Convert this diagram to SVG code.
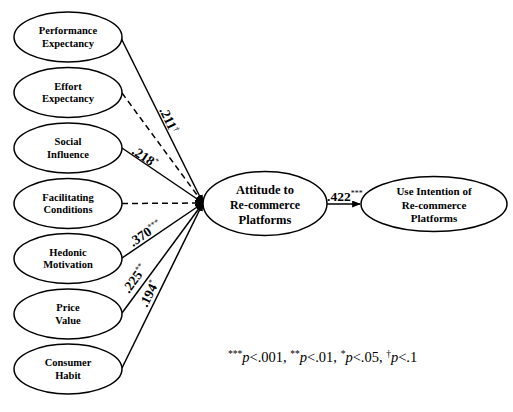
<svg xmlns="http://www.w3.org/2000/svg" width="513" height="412" viewBox="0 0 513 412" font-family="'Liberation Serif','Times New Roman',serif">
<style>
text{font-family:'Liberation Serif','Times New Roman',serif}
.node ellipse{fill:#fff;stroke:#000;stroke-width:1.5}
.lt{font-weight:bold;font-size:10.5px;text-anchor:middle;fill:#000}
.bt{font-weight:bold;font-size:12.5px;text-anchor:middle;fill:#000}
.mt{font-weight:bold;font-size:11px;text-anchor:middle;fill:#000}
.edge{stroke:#000;stroke-width:1.5;fill:none;marker-end:url(#ah)}
.dash{stroke-dasharray:6,4}
.lab{font-weight:bold;font-size:13.5px;fill:#000}
.sup{font-size:8px;font-weight:normal}
.note{font-size:14.5px;fill:#000}
.nsup{font-size:9.5px}
</style>
<defs>
<marker id="ah" viewBox="0 0 10 8" refX="9" refY="4" markerWidth="9" markerHeight="7" markerUnits="userSpaceOnUse" orient="auto">
<path d="M0,0 L10,4 L0,8 Z" fill="#000"/>
</marker>
</defs>
<g id="connectors">
<line class="edge" x1="121" y1="38" x2="203" y2="203"/>
<line class="edge dash" x1="122" y1="93" x2="203" y2="203"/>
<line class="edge" x1="122" y1="148" x2="203" y2="203"/>
<line class="edge dash" x1="122" y1="203.5" x2="203" y2="203"/>
<line class="edge" x1="122" y1="258" x2="203" y2="203"/>
<line class="edge" x1="122" y1="313" x2="203" y2="203"/>
<line class="edge" x1="122" y1="368" x2="203" y2="203"/>
<line class="edge" x1="327" y1="204" x2="360" y2="204"/>
<text class="lab" transform="translate(159,110) rotate(64)">.211<tspan class="sup" dy="-5">†</tspan></text>
<text class="lab" transform="translate(131,153) rotate(34)">.218<tspan class="sup" dy="-5">*</tspan></text>
<text class="lab" transform="translate(133,247) rotate(-34)">.370<tspan class="sup" dy="-5">***</tspan></text>
<text class="lab" transform="translate(129,294) rotate(-54)">.225<tspan class="sup" dy="-5">**</tspan></text>
<text class="lab" transform="translate(147,308) rotate(-64)">.194<tspan class="sup" dy="-5">*</tspan></text>
<text class="lab" x="327" y="201">.422<tspan class="sup" dy="-5">***</tspan></text>
</g>
<g id="performance-expectancy" class="node"><ellipse cx="68" cy="37" rx="54" ry="25"/><text class="lt" x="68" y="34">Performance</text><text class="lt" x="68" y="46.5">Expectancy</text></g>
<g id="effort-expectancy" class="node"><ellipse cx="68" cy="92.5" rx="54" ry="25"/><text class="lt" x="68" y="89.5">Effort</text><text class="lt" x="68" y="102">Expectancy</text></g>
<g id="social-influence" class="node"><ellipse cx="68" cy="148" rx="54" ry="25"/><text class="lt" x="68" y="145">Social</text><text class="lt" x="68" y="157.5">Influence</text></g>
<g id="facilitating-conditions" class="node"><ellipse cx="68" cy="203.5" rx="54" ry="25"/><text class="lt" x="68" y="200.5">Facilitating</text><text class="lt" x="68" y="213">Conditions</text></g>
<g id="hedonic-motivation" class="node"><ellipse cx="68" cy="258.5" rx="54" ry="25"/><text class="lt" x="68" y="255.5">Hedonic</text><text class="lt" x="68" y="268">Motivation</text></g>
<g id="price-value" class="node"><ellipse cx="68" cy="314" rx="54" ry="25"/><text class="lt" x="68" y="311">Price</text><text class="lt" x="68" y="323.5">Value</text></g>
<g id="consumer-habit" class="node"><ellipse cx="68" cy="369" rx="54" ry="25"/><text class="lt" x="68" y="366">Consumer</text><text class="lt" x="68" y="378.5">Habit</text></g>
<g id="attitude" class="node"><ellipse cx="265" cy="203.5" rx="62" ry="32"/><text class="bt" x="265" y="194">Attitude to</text><text class="bt" x="265" y="209" textLength="70" lengthAdjust="spacingAndGlyphs">Re-commerce</text><text class="bt" x="265" y="223.5">Platforms</text></g>
<g id="use-intention" class="node"><ellipse cx="434" cy="204" rx="73" ry="27.5"/><text class="mt" x="434" y="195">Use Intention of</text><text class="mt" x="434" y="208.5">Re-commerce</text><text class="mt" x="434" y="222">Platforms</text></g>
<text class="note" x="228" y="362"><tspan class="nsup" dy="-5">***</tspan><tspan dy="5" font-style="italic">p</tspan>&lt;.001, <tspan class="nsup" dy="-5">**</tspan><tspan dy="5" font-style="italic">p</tspan>&lt;.01, <tspan class="nsup" dy="-5">*</tspan><tspan dy="5" font-style="italic">p</tspan>&lt;.05, <tspan class="nsup" dy="-5">†</tspan><tspan dy="5" font-style="italic">p</tspan>&lt;.1</text>
</svg>
